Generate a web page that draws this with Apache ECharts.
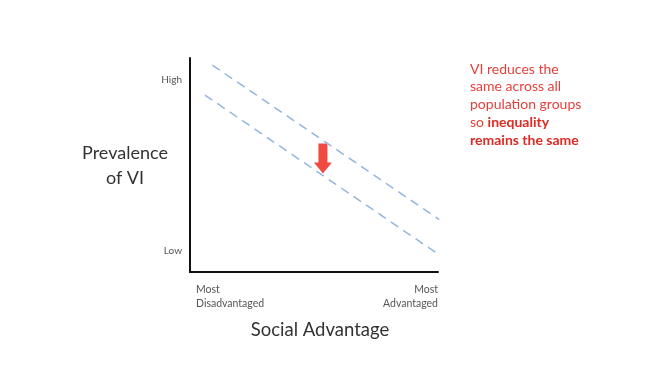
<!DOCTYPE html>
<html>
<head>
<meta charset="utf-8">
<script src="https://cdn.jsdelivr.net/npm/echarts@6/dist/echarts.min.js"></script>
<style>html,body{margin:0;padding:0;background:#fff}#c{width:648px;height:369px}</style>
</head>
<body>
<div id="c"></div>
<script>
// Data
const beforeLine = [[0.9, 9.67], [10.05, 2.45]];
const afterLine = [[0.6, 8.27], [10, 0.84]];
const arrowPoint = [[5.36, 5.3]];
const yTickLabels = { 1: 'Low', 9: 'High' };
const xTickLabels = { 0: 'Most\nDisadvantaged', 10: 'Most\nAdvantaged' };
const xAxisTitle = 'Social Advantage';
const yAxisTitle = 'Prevalence\nof VI';
const noteLines = ['VI reduces the', 'same across all', 'population groups'];

const font = 'Lato, "Open Sans", sans-serif';
const chart = echarts.init(document.getElementById('c'), null, { renderer: 'canvas' });
const lineStyle = { color: '#92b6de', width: 1.5, type: [9, 6] };
chart.setOption({
  backgroundColor: '#fff',
  animation: false,
  grid: { left: 190, top: 58, right: 210, bottom: 97 },
  xAxis: {
    type: 'value', min: 0, max: 10, interval: 10,
    axisLine: { lineStyle: { color: '#111', width: 2 } },
    axisTick: { show: false }, splitLine: { show: false },
    axisLabel: {
      formatter: v => xTickLabels[v] || '', color: '#555', fontSize: 10.5, lineHeight: 13.5,
      fontFamily: font, margin: 11, alignMinLabel: 'left', alignMaxLabel: 'right',
      padding: [0, 0, 0, 6]
    },
    name: xAxisTitle, nameLocation: 'middle', nameGap: 58,
    nameTextStyle: { fontSize: 18.5, color: '#333', fontFamily: font, verticalAlign: 'middle', padding: [0, 0, 0, 12] }
  },
  yAxis: {
    type: 'value', min: 0, max: 10, interval: 1,
    axisLine: { show: true, lineStyle: { color: '#111', width: 2 } },
    axisTick: { show: false }, splitLine: { show: false },
    axisLabel: { formatter: v => yTickLabels[v] || '', color: '#555', fontSize: 10, fontFamily: font, margin: 8 }
  },
  series: [
    { type: 'line', data: beforeLine, symbol: 'none', lineStyle, clip: false },
    { type: 'line', data: afterLine, symbol: 'none', lineStyle, clip: false },
    {
      type: 'scatter', data: arrowPoint, symbolSize: [18, 30],
      symbol: 'path://M4.5,0 L13.5,0 L13.5,19 L18,19 L9,30 L0,19 L4.5,19 Z',
      itemStyle: { color: '#ee1d12' }
    }
  ],
  graphic: [{
    type: 'text', x: 125, y: 166,
    style: {
      text: yAxisTitle, fontSize: 18, fontFamily: font, fill: '#333', lineHeight: 25,
      align: 'center', verticalAlign: 'middle'
    }
  }, {
    type: 'text', left: 470, top: 62,
    style: {
      text: noteLines.map(s => '{n|' + s + '}').join('\n') + '\n{n|so }{b|inequality}\n{b|remains the same}',
      rich: {
        n: { fontSize: 14, fontFamily: font, fill: '#e5403b', lineHeight: 17.8 },
        b: { fontSize: 14, fontFamily: font, fill: '#dd2a22', fontWeight: 'bold', lineHeight: 17.8 }
      }
    }
  }]
});
</script>
</body>
</html>
